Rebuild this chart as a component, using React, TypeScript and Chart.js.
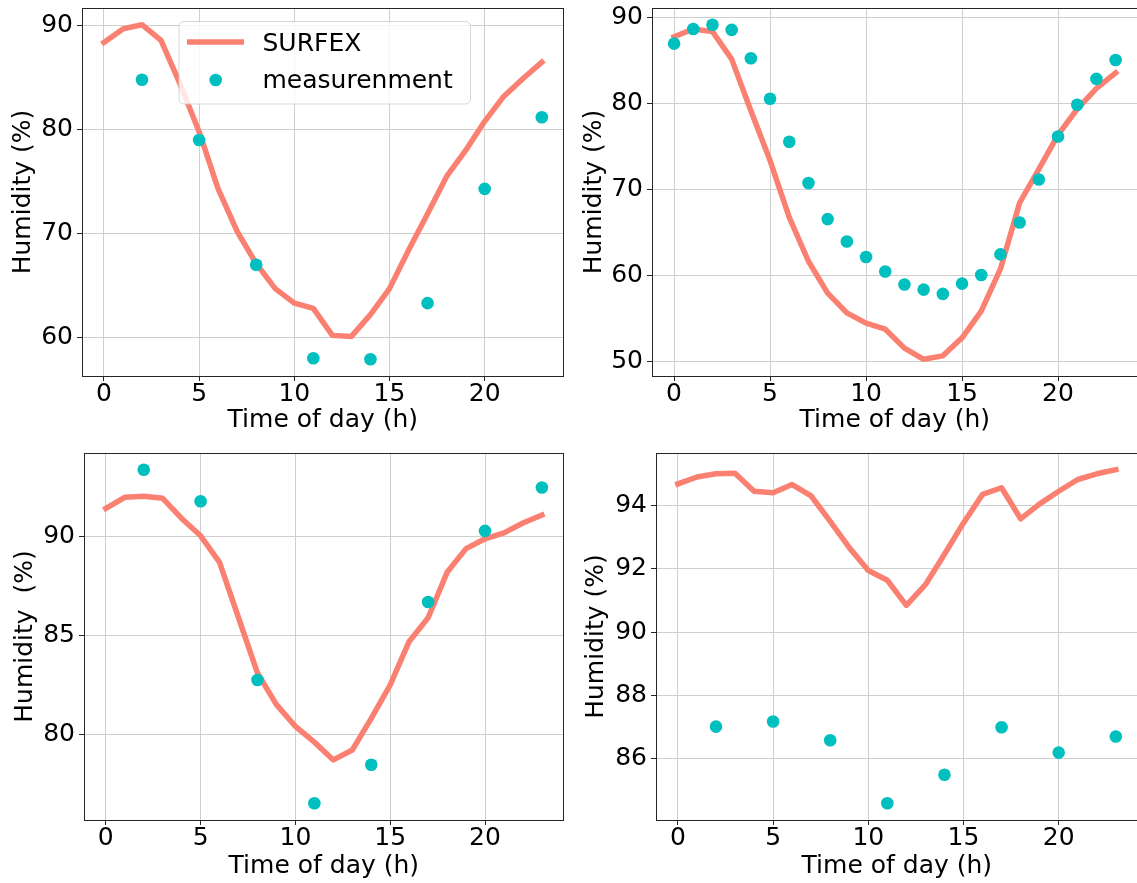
import React, { useEffect, useRef } from "react";
import { Chart, registerables } from "chart.js";

Chart.register(...registerables);

// ---------- data ----------
const hours = [0, 1, 2, 3, 4, 5, 6, 7, 8, 9, 10, 11, 12, 13, 14, 15, 16, 17, 18, 19, 20, 21, 22, 23];
const measHours3h = [2, 5, 8, 11, 14, 17, 20, 23];
const xTicks = [0, 5, 10, 15, 20];

const surfex1 = [88.4, 89.7, 90.1, 88.6, 84.4, 79.8, 74.3, 70.2, 67.1, 64.7, 63.3, 62.8, 60.2, 60.1, 62.2, 64.7, 68.4, 71.9, 75.5, 78.0, 80.8, 83.2, 84.9, 86.5];
const meas1 = [84.8, 79.0, 67.0, 58.0, 57.9, 63.3, 74.3, 81.2];
const yTicks1 = [60, 70, 80, 90];

const surfex2 = [87.8, 88.7, 88.4, 85.2, 79.2, 73.4, 66.8, 61.7, 58.0, 55.7, 54.5, 53.8, 51.6, 50.3, 50.7, 52.8, 55.9, 60.8, 68.5, 72.4, 76.4, 79.4, 81.8, 83.6];
const meas2 = [87.0, 88.7, 89.2, 88.6, 85.3, 80.6, 75.6, 70.8, 66.6, 64.0, 62.2, 60.5, 59.0, 58.4, 57.9, 59.1, 60.1, 62.5, 66.2, 71.2, 76.2, 79.9, 82.9, 85.1];
const yTicks2 = [50, 60, 70, 80, 90];

const surfex3 = [91.44, 92.0, 92.05, 91.95, 90.93, 90.05, 88.7, 85.9, 83.1, 81.5, 80.4, 79.6, 78.7, 79.2, 80.8, 82.5, 84.7, 85.9, 88.2, 89.4, 89.9, 90.2, 90.7, 91.1];
const meas3 = [93.4, 91.8, 82.75, 76.5, 78.45, 86.7, 90.3, 92.5];
const yTicks3 = [80, 85, 90];

const surfex4 = [94.68, 94.9, 95.0, 95.02, 94.45, 94.4, 94.66, 94.3, 93.5, 92.67, 91.95, 91.64, 90.85, 91.5, 92.46, 93.45, 94.35, 94.56, 93.58, 94.05, 94.45, 94.82, 95.0, 95.13];
const meas4 = [87.02, 87.18, 86.59, 84.6, 85.5, 87.0, 86.2, 86.71];
const yTicks4 = [86, 88, 90, 92, 94];

const xTitle = "Time of day (h)";
const yTitleA = "Humidity (%)";
const yTitleB = "Humidity  (%)";
const seriesLabels = ["SURFEX", "measurenment"];

// ---------- styles ----------
const FONT = "'DejaVu Sans', sans-serif";
const SALMON = "#fa8072";
const CYAN = "#00bfbf";

function limits(values: number[]) {
  const lo = Math.min(...values);
  const hi = Math.max(...values);
  const m = (hi - lo) * 0.05;
  return { min: lo - m, max: hi + m };
}

const framePlugin = {
  id: "frame",
  afterDatasetsDraw(chart: any) {
    const { ctx, chartArea: a } = chart;
    ctx.save();
    ctx.strokeStyle = "#262626";
    ctx.lineWidth = 1;
    const l = Math.floor(a.left) + 0.5;
    const t = Math.floor(a.top) + 0.5;
    const r = Math.floor(a.right) + 0.5;
    const b = Math.floor(a.bottom) + 0.5;
    ctx.strokeRect(l, t, r - l, b - t);
    ctx.restore();
  },
};

function makeLegendPlugin(box: any) {
  return {
    id: "insideLegend",
    afterDraw(chart: any) {
      const ctx = chart.ctx;
      const [line, dots] = chart.data.datasets;
      ctx.save();
      const { x, y, w, h } = box;
      const rr = 5;
      ctx.beginPath();
      ctx.moveTo(x + rr, y);
      ctx.lineTo(x + w - rr, y);
      ctx.arcTo(x + w, y, x + w, y + rr, rr);
      ctx.lineTo(x + w, y + h - rr);
      ctx.arcTo(x + w, y + h, x + w - rr, y + h, rr);
      ctx.lineTo(x + rr, y + h);
      ctx.arcTo(x, y + h, x, y + h - rr, rr);
      ctx.lineTo(x, y + rr);
      ctx.arcTo(x, y, x + rr, y, rr);
      ctx.closePath();
      ctx.fillStyle = "rgba(255,255,255,0.8)";
      ctx.fill();
      ctx.strokeStyle = "rgba(204,204,204,0.8)";
      ctx.lineWidth = 1;
      ctx.stroke();

      ctx.beginPath();
      ctx.moveTo(x + 8, y + 20.5);
      ctx.lineTo(x + 65, y + 20.5);
      ctx.strokeStyle = line.borderColor;
      ctx.lineWidth = line.borderWidth;
      ctx.lineCap = "butt";
      ctx.stroke();

      ctx.beginPath();
      ctx.arc(x + 36.7, y + 58.5, dots.pointRadius, 0, Math.PI * 2);
      ctx.fillStyle = dots.pointBackgroundColor;
      ctx.fill();

      ctx.font = `25px ${FONT}`;
      ctx.fillStyle = "#000";
      ctx.textAlign = "left";
      ctx.textBaseline = "middle";
      ctx.fillText(line.label, x + 83.5, y + 22.5);
      ctx.fillText(dots.label, x + 83.5, y + 60);
      ctx.restore();
    },
  };
}

type PanelProps = {
  left: number;
  top: number;
  width: number;
  height: number;
  area: { l: number; t: number; r: number; b: number };
  surfex: number[];
  meas: number[];
  measX: number[];
  yTicks: number[];
  yTitle: string;
  yTitlePad: number;
  xTitlePad: number;
  legend?: { x: number; y: number; w: number; h: number };
};

function Panel(p: PanelProps) {
  const ref = useRef<HTMLCanvasElement>(null);
  useEffect(() => {
    const lim = limits([...p.surfex, ...p.meas]);
    const tickFont = { family: FONT, size: 25, lineHeight: 1.1 };
    const titleFont = { family: FONT, size: 25, lineHeight: 1.2 };
    const grid = {
      color: "#cfcfcf",
      lineWidth: 1,
      drawTicks: true,
      tickLength: 5,
      tickColor: "#262626",
      tickWidth: 1,
    };
    const zeroPad = (s: any) => {
      s.paddingTop = 0;
      s.paddingBottom = 0;
      s.paddingLeft = 0;
      s.paddingRight = 0;
    };
    const chart = new Chart(ref.current as HTMLCanvasElement, {
      type: "line",
      data: {
        datasets: [
          {
            label: seriesLabels[0],
            data: hours.map((hr, i) => ({ x: hr, y: p.surfex[i] })),
            borderColor: SALMON,
            backgroundColor: SALMON,
            borderWidth: 5.5,
            pointRadius: 0,
            tension: 0,
            borderJoinStyle: "round",
            borderCapStyle: "square",
            fill: false,
            order: 2,
          },
          {
            label: seriesLabels[1],
            data: p.measX.map((hr, i) => ({ x: hr, y: p.meas[i] })),
            showLine: false,
            borderColor: CYAN,
            backgroundColor: CYAN,
            pointBackgroundColor: CYAN,
            pointBorderWidth: 0,
            pointRadius: 6.3,
            pointStyle: "circle",
            order: 1,
          },
        ],
      } as any,
      options: {
        animation: false,
        responsive: false,
        events: [],
        layout: { padding: { left: 0, top: p.area.t, right: p.width - p.area.r, bottom: 0 } },
        plugins: { legend: { display: false }, tooltip: { enabled: false } },
        scales: {
          x: {
            type: "linear",
            min: -1.15,
            max: 24.15,
            afterBuildTicks: (s: any) => {
              s.ticks = xTicks.map((v) => ({ value: v }));
            },
            afterFit: (s: any) => {
              s.height = p.height - p.area.b;
              zeroPad(s);
            },
            grid,
            border: { display: false },
            ticks: { font: tickFont, color: "#000", padding: 0, maxRotation: 0, autoSkip: false },
            title: {
              display: true,
              text: xTitle,
              font: titleFont,
              color: "#000",
              padding: { top: 0, bottom: p.xTitlePad },
            },
          },
          y: {
            type: "linear",
            min: lim.min,
            max: lim.max,
            afterBuildTicks: (s: any) => {
              s.ticks = p.yTicks.map((v) => ({ value: v }));
            },
            afterFit: (s: any) => {
              s.width = p.area.l;
              zeroPad(s);
            },
            grid,
            border: { display: false },
            ticks: { font: tickFont, color: "#000", padding: 4, autoSkip: false },
            title: {
              display: true,
              text: p.yTitle,
              font: titleFont,
              color: "#000",
              padding: { top: p.yTitlePad, bottom: 0 },
            },
          },
        },
      } as any,
      plugins: p.legend ? [framePlugin, makeLegendPlugin(p.legend)] : [framePlugin],
    });
    return () => chart.destroy();
  }, []);
  return (
    <canvas
      ref={ref}
      width={p.width}
      height={p.height}
      style={{ position: "absolute", left: p.left, top: p.top, width: p.width, height: p.height }}
    />
  );
}

export default function App() {
  return (
    <div
      style={{
        position: "absolute",
        left: 0,
        top: 0,
        width: 1137,
        height: 883,
        overflow: "hidden",
        background: "#fff",
      }}
    >
      <Panel
        left={0}
        top={0}
        width={570}
        height={440}
        area={{ l: 82, t: 8, r: 567, b: 376 }}
        surfex={surfex1}
        meas={meas1}
        measX={measHours3h}
        yTicks={yTicks1}
        yTitle={yTitleA}
        yTitlePad={8.3}
        xTitlePad={5}
        legend={{ x: 179, y: 21.5, w: 291.5, h: 82.5 }}
      />
      <Panel
        left={570}
        top={0}
        width={574}
        height={440}
        area={{ l: 82, t: 8, r: 568, b: 376 }}
        surfex={surfex2}
        meas={meas2}
        measX={hours}
        yTicks={yTicks2}
        yTitle={yTitleA}
        yTitlePad={9.7}
        xTitlePad={5}
      />
      <Panel
        left={0}
        top={440}
        width={570}
        height={443}
        area={{ l: 84, t: 13, r: 567, b: 380 }}
        surfex={surfex3}
        meas={meas3}
        measX={measHours3h}
        yTicks={yTicks3}
        yTitle={yTitleB}
        yTitlePad={10.4}
        xTitlePad={2}
      />
      <Panel
        left={570}
        top={440}
        width={574}
        height={443}
        area={{ l: 86, t: 13, r: 571, b: 380 }}
        surfex={surfex4}
        meas={meas4}
        measX={measHours3h}
        yTicks={yTicks4}
        yTitle={yTitleA}
        yTitlePad={11}
        xTitlePad={2}
      />
    </div>
  );
}
